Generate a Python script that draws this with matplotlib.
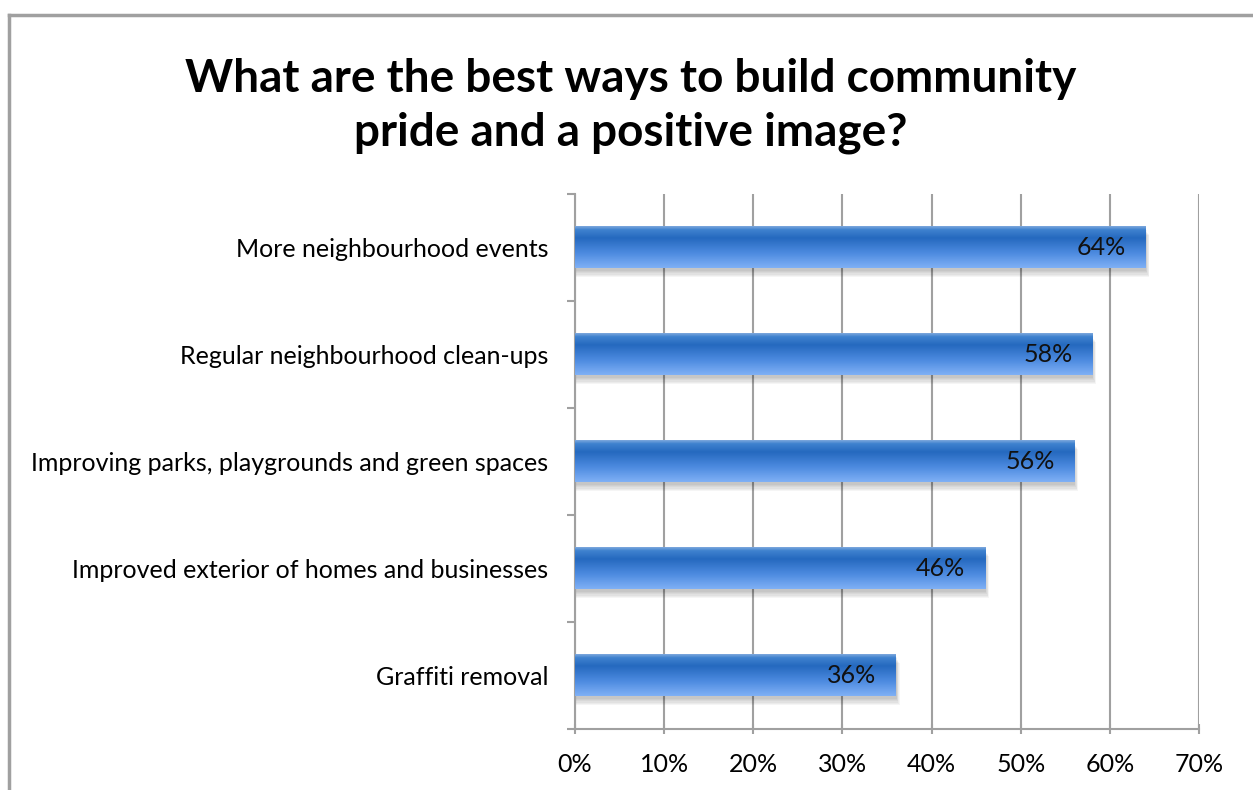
import matplotlib.pyplot as plt
import numpy as np
from matplotlib.patches import Rectangle
from matplotlib.colors import LinearSegmentedColormap

# data
categories = ['Graffiti removal',
              'Improved exterior of homes and businesses',
              'Improving parks, playgrounds and green spaces',
              'Regular neighbourhood clean-ups',
              'More neighbourhood events']
values = [36, 46, 56, 58, 64]
xticks = [0, 10, 20, 30, 40, 50, 60, 70]

plt.rcParams['font.family'] = ['Lato', 'DejaVu Sans']

fig = plt.figure(figsize=(12.53, 7.9), dpi=100)
ax = fig.add_axes([575/1253, 1-729/790, (1199-575)/1253, (729-194)/790])

# frame around chart area (top + left only visible)
fig.add_artist(plt.Line2D([9/1253, 1.0], [1-15/790, 1-15/790], color='#a0a0a0', lw=2.5))
fig.add_artist(plt.Line2D([9/1253, 9/1253], [0, 1-15/790], color='#a0a0a0', lw=2.5))

# gradient for bars: top light edge, dark band, light bottom
grad = LinearSegmentedColormap.from_list('g', [
    (0.0, '#7aa6dc'), (0.08, '#3f82cf'), (0.28, '#2569bf'),
    (0.65, '#4d8be0'), (1.0, '#7fb0f5')])
g = np.linspace(0, 1, 64).reshape(-1, 1)

h = 0.39
for i, v in enumerate(values):
    # soft shadow
    for k in range(6):
        d = 0.012 * (k + 1)
        ax.add_patch(Rectangle((0, i - h/2 - d - 0.01), v + d*6, h, color='k',
                               alpha=0.04, lw=0, zorder=2))
    ax.imshow(g, cmap=grad, extent=(0, v, i - h/2, i + h/2), aspect='auto',
              origin='upper', zorder=3, interpolation='bilinear')
    ax.text(v - 2.2, i, f'{v}%', ha='right', va='center', fontsize=18,
            color='#111111', zorder=4)

ax.set_xlim(0, 70)
ax.set_ylim(-0.5, len(values) - 0.5)
ax.set_xticks(xticks)
ax.set_xticklabels([f'{t}%' for t in xticks], fontsize=18)
ax.set_yticks(range(len(categories)))
ax.set_yticklabels(categories, fontsize=18)
ax.set_yticks(np.arange(-0.5, len(values)), minor=True)
ax.tick_params(axis='y', which='major', length=0, pad=19)
ax.tick_params(axis='y', which='minor', length=6, width=1.5, color='#a0a0a0')
ax.tick_params(axis='x', length=7, width=1.5, color='#a0a0a0', pad=14, direction='inout')
ax.xaxis.grid(True, color='#a0a0a0', lw=1.5, zorder=0)
ax.set_axisbelow(True)
for s in ['top', 'right']:
    ax.spines[s].set_visible(False)
for s in ['left', 'bottom']:
    ax.spines[s].set_color('#a0a0a0')
    ax.spines[s].set_linewidth(1.5)

fig.text(631/1253, 1-106/790, 'What are the best ways to build community\npride and a positive image?',
         ha='center', va='center', fontsize=33, fontweight='bold', linespacing=1.32)

fig.savefig('out.png', dpi=100)
